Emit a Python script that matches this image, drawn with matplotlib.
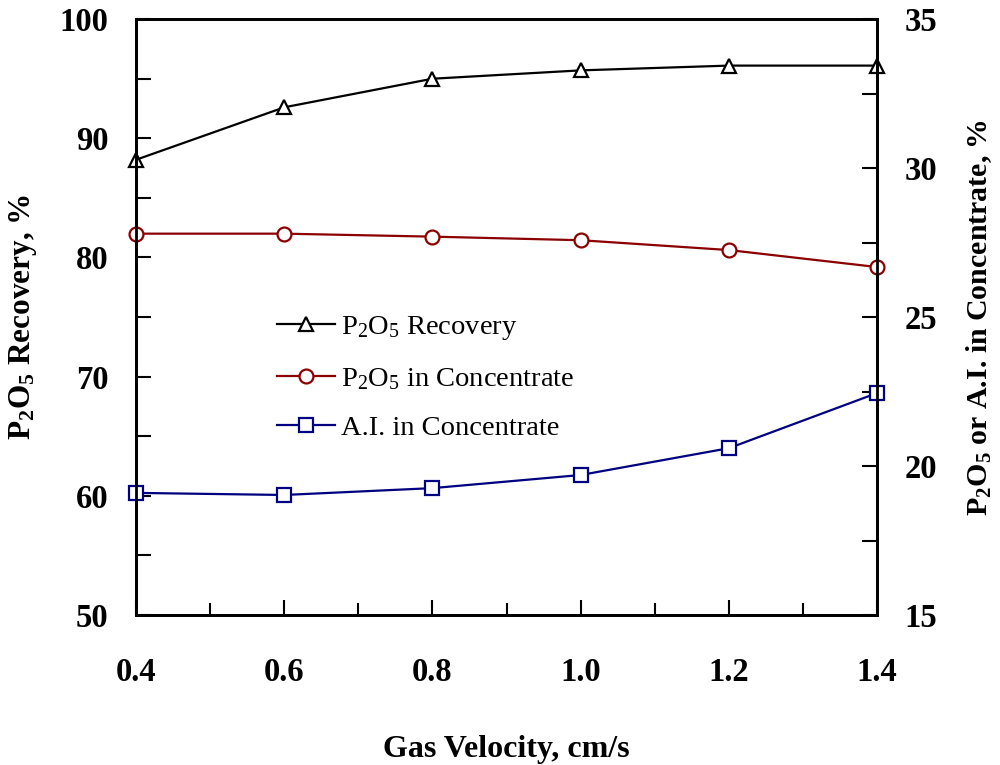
import matplotlib
matplotlib.use('Agg')
import matplotlib.pyplot as plt
from matplotlib.ticker import MultipleLocator

plt.rcParams['font.family'] = ['Liberation Serif', 'DejaVu Serif']
plt.rcParams['mathtext.fontset'] = 'custom'
plt.rcParams['mathtext.rm'] = 'Liberation Serif'
plt.rcParams['mathtext.it'] = 'Liberation Serif:italic'
plt.rcParams['mathtext.bf'] = 'Liberation Serif:bold'

# 数据
gas_velocity = [0.4, 0.6, 0.8, 1.0, 1.2, 1.4]
p2o5_recovery = [88.2, 92.6, 95.0, 95.7, 96.1, 96.1]
p2o5_conc = [27.8, 27.8, 27.7, 27.58, 27.25, 26.68]
ai_conc = [19.1, 19.03, 19.26, 19.7, 20.6, 22.45]

fig = plt.figure(figsize = (10, 7.65), dpi = 100)
ax = fig.add_axes([0.136, 0.196, 0.741, 0.779])
ax2 = ax.twinx()

mk = dict(markersize = 10, markerfacecolor = 'white', markeredgewidth = 1.6, linewidth = 1.6, clip_on = False)
l1, = ax.plot(gas_velocity, p2o5_recovery, color = 'black', marker = '^', label = r'$\mathrm{P_2O_5}$ Recovery', **mk)
l2, = ax2.plot(gas_velocity, p2o5_conc, color = '#8B0000', marker = 'o', label = r'$\mathrm{P_2O_5}$ in Concentrate', **mk)
l3, = ax2.plot(gas_velocity, ai_conc, color = '#000080', marker = 's', label = 'A.I. in Concentrate', **mk)

ax.set_xlim(0.4, 1.4)
ax.set_ylim(50, 100)
ax2.set_ylim(15, 35)
ax.xaxis.set_major_locator(MultipleLocator(0.2))
ax.xaxis.set_minor_locator(MultipleLocator(0.1))
ax.yaxis.set_major_locator(MultipleLocator(10))
ax.yaxis.set_minor_locator(MultipleLocator(5))
ax2.yaxis.set_major_locator(MultipleLocator(5))
ax2.yaxis.set_minor_locator(MultipleLocator(2.5))
ax.xaxis.set_major_formatter(plt.FuncFormatter(lambda v, p: f'{v:.1f}'))

for a in (ax, ax2):
    for s in a.spines.values():
        s.set_linewidth(2)
ax.tick_params(axis = 'x', which = 'major', direction = 'in', length = 11, width = 1.5, pad = 30, labelsize = 23.5)
ax.tick_params(axis = 'x', which = 'minor', direction = 'in', length = 9, width = 1.5)
ax.tick_params(axis = 'y', which = 'both', direction = 'in', length = 11, width = 1.5, pad = 20, labelsize = 23.5)
ax2.tick_params(axis = 'y', which = 'both', direction = 'in', length = 11, width = 1.5, pad = 20, labelsize = 23.5)
for lab in ax.get_xticklabels() + ax.get_yticklabels() + ax2.get_yticklabels():
    lab.set_fontweight('bold')

ax.set_xlabel('Gas Velocity, cm/s', fontsize = 23, fontweight = 'bold', labelpad = 34)
ax.set_ylabel(r'$\mathbf{P_2O_5}$ Recovery, %', fontsize = 22.5, fontweight = 'bold', labelpad = 15)
ax2.set_ylabel(r'$\mathbf{P_2O_5}$ or A.I. in Concentrate, %', fontsize = 21.5, fontweight = 'bold', labelpad = 19)

ax.legend(handles = [l1, l2, l3], loc = 'upper left', bbox_to_anchor = (0.19, 0.505), frameon = False,
          borderpad = 0, borderaxespad = 0, fontsize = 20.5, handlelength = 2.05, labelspacing = 0.83,
          handletextpad = 0.2)

fig.savefig('out.png', dpi = 100)
